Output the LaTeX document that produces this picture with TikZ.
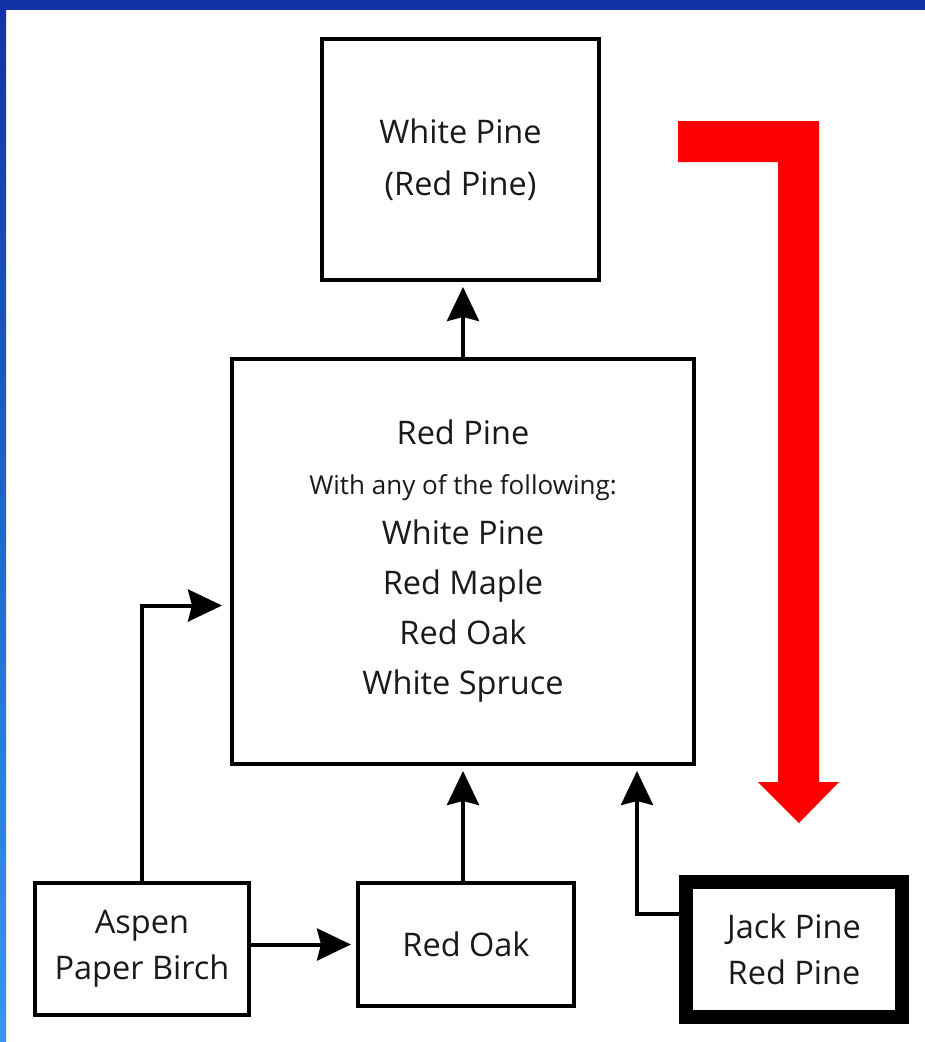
\documentclass[tikz,border=0pt]{standalone}
\usepackage{fontspec}
\setmainfont{Open Sans}
\usepackage{tikz}
\usetikzlibrary{arrows.meta,positioning,calc}
\definecolor{FrameTop}{HTML}{1232A6}
\definecolor{FrameLow}{HTML}{3496F8}
\definecolor{Ink}{HTML}{1A1A1A}
\definecolor{Signal}{HTML}{FF0000}
\tikzset{
  standbox/.style={draw=black, line width=4pt, fill=white, align=center, text=Ink, font=\fontsize{32.5}{46}\selectfont},
  heavybox/.style={standbox, line width=14pt},
  arrow/.style={-{Stealth[length=34pt, width=32pt, inset=4pt]}, line width=4pt, draw=black, shorten >=5pt},
}

\begin{document}
\begin{tikzpicture}[x=1pt, y=-1pt]
  % frame and page
  \useasboundingbox (0,0) rectangle (925,1042);
  \fill[white] (0,0) rectangle (925,1042);
  \shade[top color=FrameTop, bottom color=FrameLow] (0,0) rectangle (6,1042);
  \fill[FrameTop] (0,0) rectangle (925,10);

  % stands
  \node[standbox, minimum width=277pt, minimum height=241pt, font=\fontsize{32.5}{52}\selectfont] (whitepine) at (460.5,159.5) {White Pine\\(Red Pine)};
  \node[standbox, minimum width=462pt, minimum height=405pt, font=\fontsize{32.5}{50}\selectfont] (redpine) at (463,561.5)
    {Red Pine\\{\fontsize{26}{50}\selectfont With any of the following:}\\White Pine\\Red Maple\\Red Oak\\White Spruce};
  \node[standbox, minimum width=214pt, minimum height=132pt] (aspen) at (142,949) {Aspen\\Paper Birch};
  \node[standbox, minimum width=216pt, minimum height=123pt] (redoak) at (466,944.5) {Red Oak};
  \node[heavybox, minimum width=216pt, minimum height=135pt] (jackpine) at (794,949.5) {Jack Pine\\Red Pine};

  % succession
  \draw[arrow] (redpine.north) -- (redpine.north |- whitepine.south);
  \draw[arrow] (redpine.south |- redoak.north) -- (redpine.south);
  \draw[arrow] (aspen.east |- redoak.west) -- (redoak.west);
  \draw[arrow, shorten >=8pt] (aspen.north) |- ([yshift=-44pt]redpine.west);
  \draw[arrow] ([yshift=36pt]jackpine.west) -| ([xshift=174pt]redpine.south);

  % red trend arrow
  \fill[Signal] (678,121) -- (819,121) -- (819,782) -- (839,782) -- (799,823)
    -- (758,782) -- (778,782) -- (778,162) -- (678,162) -- cycle;
\end{tikzpicture}
\end{document}
